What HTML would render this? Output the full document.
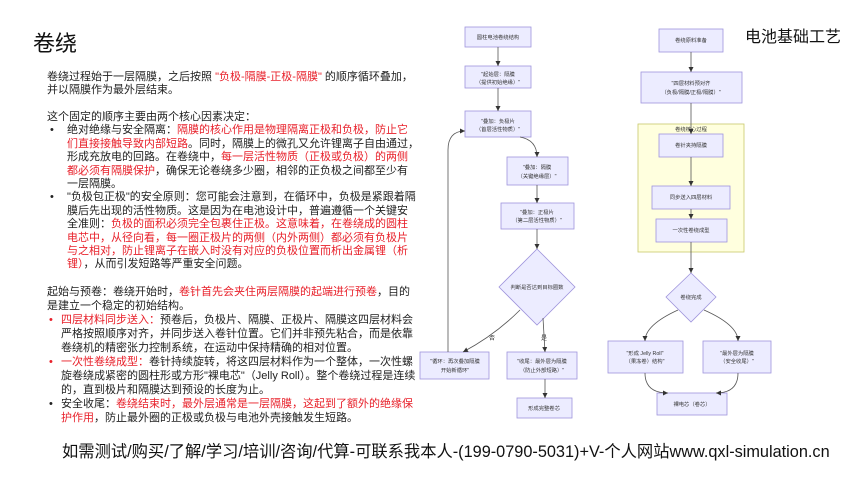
<!DOCTYPE html>
<html><head><meta charset="utf-8">
<style>
*{margin:0;padding:0;box-sizing:border-box}
body{width:860px;height:484px;background:#fff;position:relative;overflow:hidden;font-family:"Liberation Sans","Noto Sans CJK SC",sans-serif;color:#222}
.t{position:absolute;white-space:nowrap;font-size:11px;line-height:13.4px}
.r{color:#e8202a}
svg{position:absolute;left:0;top:0}
</style></head><body>
<div class="t" style="left:33px;top:30px;font-size:22px;line-height:28px;color:#111">卷绕</div>
<div class="t" style="left:745px;top:27px;font-size:16px;line-height:22px;color:#111">电池基础工艺</div>

<div class="t" style="left:47px;top:71px">卷绕过程始于一层隔膜，之后按照 <span class="r">"负极-隔膜-正极-隔膜"</span> 的顺序循环叠加，<br>并以隔膜作为最外层结束。</div>
<div class="t" style="left:47px;top:111px">这个固定的顺序主要由两个核心因素决定：</div>
<div class="t" style="left:50px;top:124.4px">•<br><br><br><br><br>•</div>
<div class="t" style="left:67px;top:124.4px">绝对绝缘与安全隔离：<span class="r">隔膜的核心作用是物理隔离正极和负极，防止它<br>们直接接触导致内部短路</span>。同时，隔膜上的微孔又允许锂离子自由通过，<br>形成充放电的回路。在卷绕中，<span class="r">每一层活性物质（正极或负极）的两侧<br>都必须有隔膜保护</span>，确保无论卷绕多少圈，相邻的正负极之间都至少有<br>一层隔膜。<br>"负极包正极"的安全原则：您可能会注意到，在循环中，负极是紧跟着隔<br>膜后先出现的活性物质。这是因为在电池设计中，普遍遵循一个关键安<br>全准则：<span class="r">负极的面积必须完全包裹住正极。这意味着，在卷绕成的圆柱<br>电芯中，从径向看，每一圈正极片的两侧（内外两侧）都必须有负极片<br>与之相对，防止锂离子在嵌入时没有对应的负极位置而析出金属锂（析<br>锂）</span>，从而引发短路等严重安全问题。</div>

<div class="t" style="left:47px;top:285px;line-height:14px">起始与预卷：卷绕开始时，<span class="r">卷针首先会夹住两层隔膜的起端进行预卷</span>，目的<br>是建立一个稳定的初始结构。</div>
<div class="t" style="left:49px;top:313px;line-height:14px"><span class="r">•</span><br><br><br><span class="r">•</span><br><br><br>•</div>
<div class="t" style="left:61px;top:313px;line-height:14px"><span class="r">四层材料同步送入：</span>预卷后，负极片、隔膜、正极片、隔膜这四层材料会<br>严格按照顺序对齐，并同步送入卷针位置。它们并非预先粘合，而是依靠<br>卷绕机的精密张力控制系统，在运动中保持精确的相对位置。<br><span class="r">一次性卷绕成型：</span>卷针持续旋转，将这四层材料作为一个整体，一次性螺<br>旋卷绕成紧密的圆柱形或方形"裸电芯"（Jelly Roll）。整个卷绕过程是连续<br>的，直到极片和隔膜达到预设的长度为止。<br>安全收尾：<span class="r">卷绕结束时，最外层通常是一层隔膜，这起到了额外的绝缘保<br>护作用</span>，防止最外圈的正极或负极与电池外壳接触发生短路。</div>

<div class="t" style="left:62px;top:440px;font-size:16.3px;line-height:24px;color:#111">如需测试/购买/了解/学习/培训/咨询/代算-可联系我本人-(199-0790-5031)+V-个人网站www.qxl-simulation.cn</div>

<svg width="860" height="484" viewBox="0 0 860 484" font-family="Liberation Sans,Noto Sans CJK SC,sans-serif" font-size="5.3" fill="#333">
<defs><marker id="a" markerWidth="6" markerHeight="6" refX="5" refY="3" orient="auto" markerUnits="userSpaceOnUse"><path d="M0,0.5L5,3L0,5.5z" fill="#333"/></marker></defs>
<g fill="#ececff" stroke="#9f94dc" stroke-width="0.8">
<rect x="465" y="27" width="66" height="20"/>
<rect x="465" y="66" width="66" height="22"/>
<rect x="465" y="111" width="66" height="26"/>
<rect x="507" y="157" width="61" height="28"/>
<rect x="501" y="203" width="73" height="26"/>
<polygon points="537,249 575,287 537,325 499,287"/>
<rect x="420" y="352" width="69" height="27"/>
<rect x="507" y="352" width="70" height="27"/>
<rect x="517" y="398" width="55" height="20"/>
<rect x="659" y="29" width="64" height="23"/>
<rect x="641" y="72" width="101" height="31"/>
<rect x="638" y="124" width="106" height="128" fill="#ffffde" stroke="#c8c86a"/>
<rect x="659" y="134" width="64" height="23"/>
<rect x="652" y="186" width="78" height="23"/>
<rect x="656" y="219" width="71" height="23"/>
<polygon points="691,273 716,297 691,322 666,297"/>
<rect x="608" y="341" width="75" height="32"/>
<rect x="703" y="341" width="68" height="32"/>
<rect x="657" y="393" width="70" height="22"/>
</g>
<g fill="none" stroke="#555" stroke-width="0.8" marker-end="url(#a)">
<path d="M498,47V66"/><path d="M498,88V111"/>
<path d="M520,137Q537,140 537,157"/>
<path d="M537,185V203"/><path d="M537,229V249"/>
<path d="M520,310Q495,335 463,352"/>
<path d="M543,318L545,352"/><path d="M545,379V398"/>
<path d="M448,352V150Q448,131 465,131"/>
<path d="M691,52V72"/><path d="M691,103V134"/>
<path d="M691,157V186"/><path d="M691,209V219"/><path d="M691,242V273"/>
<path d="M678,310Q645,325 645,341"/><path d="M704,310Q738,325 738,341"/>
<path d="M645,373Q645,393 668,393"/><path d="M738,373Q738,393 716,393"/>
</g>
<g text-anchor="middle">
<text x="498" y="39">圆柱电池卷绕结构</text>
<text x="498" y="76">"起始层：隔膜</text><text x="498" y="84">（提供初始绝缘）"</text>
<text x="498" y="123">"叠加：负极片</text><text x="498" y="131">（首层活性物质）"</text>
<text x="537" y="169">"叠加：隔膜</text><text x="537" y="178">（关键绝缘层）"</text>
<text x="537" y="214">"叠加：正极片</text><text x="537" y="222">（第二层活性物质）"</text>
<text x="537" y="289">判断是否达到目标圈数</text>
<text x="455" y="363">"循环：再次叠加隔膜</text><text x="455" y="372">开始新循环"</text>
<text x="542" y="363">"收尾：最外层为隔膜</text><text x="542" y="372">（防止外部短路）"</text>
<text x="544" y="410">形成完整卷芯</text>
<text x="492" y="340" font-size="6">否</text><text x="544" y="340" font-size="6">是</text>
<text x="691" y="42">卷绕原料准备</text>
<text x="691" y="85">"四层材料预对齐</text><text x="691" y="94">（负极/隔膜/正极/隔膜）"</text>
<text x="691" y="131">卷绕核心过程</text>
<text x="691" y="147">卷针夹持隔膜</text>
<text x="691" y="199">同步送入四层材料</text>
<text x="691" y="232">一次性卷绕成型</text>
<text x="691" y="299">卷绕完成</text>
<text x="645" y="355">"形成 Jelly Roll"</text><text x="645" y="363">（果冻卷）结构"</text>
<text x="737" y="355">"最外层为隔膜</text><text x="737" y="363">（安全收尾）"</text>
<text x="692" y="406">裸电芯（卷芯）</text>
</g>
</svg>
</body></html>
